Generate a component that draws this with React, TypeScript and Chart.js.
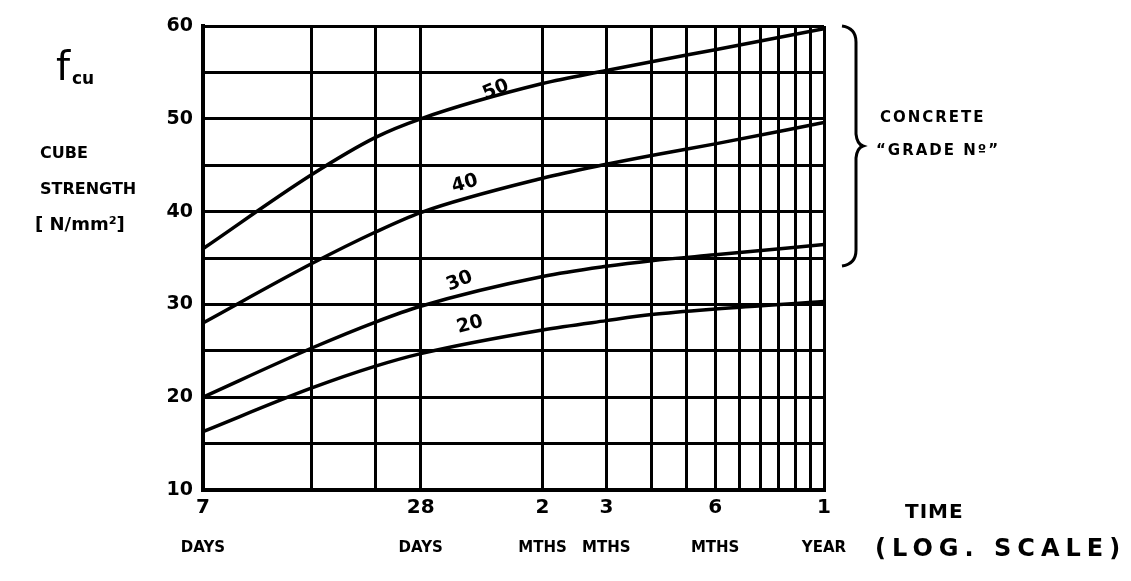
import { useEffect, useRef } from 'react';
import { Chart, registerables } from 'chart.js';

Chart.register(...registerables);

const FONT = '"DejaVu Sans", sans-serif';

// x axis (days, log scale)
const gridDays = [7, 14, 21, 28, 60.8, 91.3, 121.7, 152.1, 182.5, 212.9, 243.3, 273.8, 304.2, 334.6, 365];
const labelDays = [7, 28, 60.8, 91.3, 182.5, 365];
const labelNumbers = ['7', '28', '2', '3', '6', '1'];
const labelUnits = ['DAYS', 'DAYS', 'MTHS', 'MTHS', 'MTHS', 'YEAR'];

// y axis
const yMin = 10;
const yMax = 60;
const yStep = 5;

// series
const sampleDays = [7, 14, 21, 28, 60.8, 91.3, 121.7, 182.5, 365];
const grade50 = [36, 44, 48.0, 50, 53.8, 55.2, 56.15, 57.45, 59.7];
const grade40 = [28, 34.4, 37.8, 39.9, 43.6, 45.1, 46.05, 47.3, 49.6];
const grade30 = [20, 25.3, 28.1, 29.8, 33.0, 34.1, 34.7, 35.35, 36.45];
const grade20 = [16.3, 21.0, 23.35, 24.7, 27.25, 28.25, 28.9, 29.5, 30.3];
const gradeNames = ['50', '40', '30', '20'];

// curve label anchors (data coordinates)
const curveLabelDays = [45.2, 37.1, 35.9, 38.3];
const curveLabelValues = [53.1, 43.0, 32.5, 27.8];
const curveLabelAngles = [-22, -16, -22, -15];

export default function App() {
  const ref = useRef<HTMLCanvasElement>(null);

  useEffect(() => {
    const series = [grade50, grade40, grade30, grade20];
    const datasets = series.map((vals, k) => ({
      label: gradeNames[k],
      data: sampleDays.map((d, i) => ({ x: d, y: vals[i] })),
      borderColor: '#000',
      borderWidth: 3.5,
      pointRadius: 0,
      cubicInterpolationMode: 'monotone' as const,
      fill: false,
      xAxisID: 'x',
      yAxisID: 'y',
    }));

    const annot = {
      id: 'annot',
      afterDraw(chart: any) {
        const ctx = chart.ctx as CanvasRenderingContext2D;
        const xs = chart.scales.x;
        const ys = chart.scales.y;
        ctx.save();
        ctx.fillStyle = '#000';
        ctx.strokeStyle = '#000';

        // curve labels
        gradeNames.forEach((t, i) => {
          ctx.save();
          ctx.translate(xs.getPixelForValue(curveLabelDays[i]), ys.getPixelForValue(curveLabelValues[i]));
          ctx.rotate((curveLabelAngles[i] * Math.PI) / 180);
          ctx.font = `bold 19px ${FONT}`;
          ctx.textAlign = 'center';
          ctx.textBaseline = 'middle';
          ctx.fillText(t, 0, 0);
          ctx.restore();
        });

        // left title block
        ctx.textAlign = 'left';
        ctx.textBaseline = 'alphabetic';
        ctx.font = `40px ${FONT}`;
        ctx.fillText('f', 56, 80);
        ctx.font = `bold 17px ${FONT}`;
        ctx.fillText('cu', 72, 84);
        ctx.font = `bold 16px ${FONT}`;
        ctx.fillText('CUBE', 40, 158);
        ctx.fillText('STRENGTH', 40, 194);
        ctx.font = `bold 18px ${FONT}`;
        ctx.fillText('[ N/mm²]', 35, 230);

        // brace
        const bx = 856;
        const t0 = chart.chartArea.top;
        const t1 = 266;
        const mid = (t0 + t1) / 2;
        ctx.lineWidth = 3;
        ctx.beginPath();
        ctx.moveTo(842, t0);
        ctx.quadraticCurveTo(bx, t0 + 2, bx, t0 + 16);
        ctx.lineTo(bx, mid - 12);
        ctx.quadraticCurveTo(bx + 1, mid - 2, bx + 7, mid);
        ctx.quadraticCurveTo(bx + 1, mid + 2, bx, mid + 12);
        ctx.lineTo(bx, t1 - 16);
        ctx.quadraticCurveTo(bx, t1 - 2, 842, t1);
        ctx.stroke();

        // right text
        (ctx as any).letterSpacing = '2px';
        ctx.font = `bold 15px ${FONT}`;
        ctx.fillText('CONCRETE', 880, 122);
        ctx.fillText('“GRADE Nº”', 876, 155);
        (ctx as any).letterSpacing = '1px';
        ctx.font = `bold 20px ${FONT}`;
        ctx.fillText('TIME', 905, 518);
        (ctx as any).letterSpacing = '6px';
        ctx.font = `bold 24px ${FONT}`;
        ctx.fillText('(LOG. SCALE)', 875, 556);
        ctx.restore();
      },
    };

    const chart = new Chart(ref.current as HTMLCanvasElement, {
      type: 'line',
      data: { datasets },
      options: {
        animation: false,
        responsive: true,
        maintainAspectRatio: false,
        layout: { padding: { left: 153, right: 307, top: 26, bottom: 11 } },
        plugins: { legend: { display: false }, tooltip: { enabled: false } },
        scales: {
          x: {
            type: 'logarithmic',
            position: 'bottom',
            min: 7,
            max: 365,
            afterBuildTicks: (s: any) => {
              s.ticks = gridDays.map((v) => ({ value: v }));
            },
            afterFit: (s: any) => {
              s.height = 38;
            },
            grid: { color: '#000', lineWidth: 3, drawTicks: false },
            border: { color: '#000', width: 4 },
            ticks: {
              autoSkip: false,
              maxRotation: 0,
              padding: 6,
              color: '#000',
              font: { family: FONT, size: 20, weight: 'bold' },
              callback: (v: any) => {
                const i = labelDays.indexOf(Number(v));
                return i >= 0 ? labelNumbers[i] : '';
              },
            },
          },
          xu: {
            type: 'logarithmic',
            position: 'bottom',
            min: 7,
            max: 365,
            afterBuildTicks: (s: any) => {
              s.ticks = labelDays.map((v) => ({ value: v }));
            },
            afterFit: (s: any) => {
              s.height = 42;
            },
            grid: { display: false, drawTicks: false },
            border: { display: false },
            ticks: {
              autoSkip: false,
              maxRotation: 0,
              padding: 11,
              color: '#000',
              font: { family: FONT, size: 15, weight: 'bold' },
              callback: (v: any) => {
                const i = labelDays.indexOf(Number(v));
                return i >= 0 ? labelUnits[i] : '';
              },
            },
          },
          y: {
            type: 'linear',
            min: yMin,
            max: yMax,
            afterFit: (s: any) => {
              s.width = 50;
            },
            grid: { color: '#000', lineWidth: 3, drawTicks: false },
            border: { color: '#000', width: 4 },
            ticks: {
              stepSize: yStep,
              padding: 10,
              color: '#000',
              font: { family: FONT, size: 19, weight: 'bold' },
              callback: (v: any) => (Number(v) % 10 === 0 ? String(v) : ''),
            },
          },
        },
      } as any,
      plugins: [annot],
    });
    return () => chart.destroy();
  }, []);

  return (
    <div style={{ position: 'fixed', left: 0, top: 0, width: 1131, height: 581, background: '#fff' }}>
      <canvas ref={ref} />
    </div>
  );
}
